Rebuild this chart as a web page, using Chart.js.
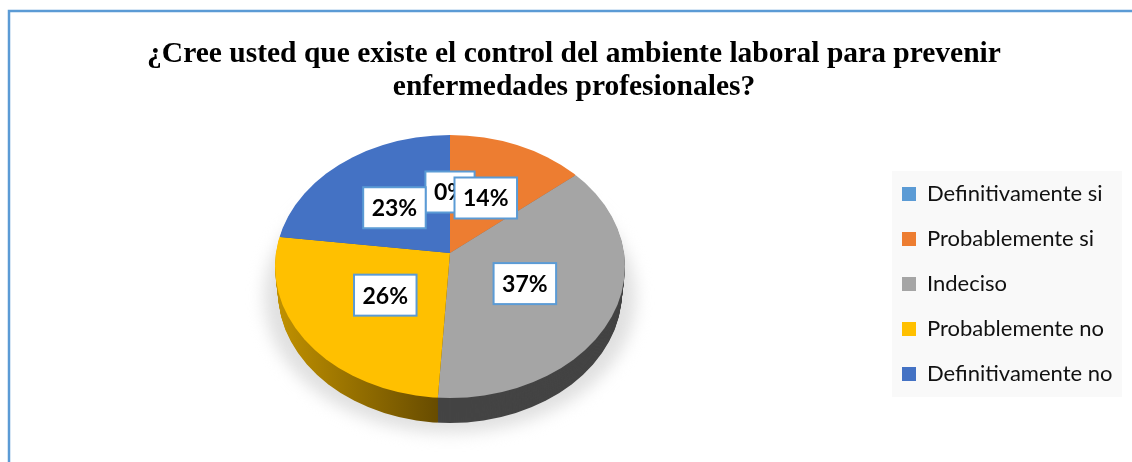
<!DOCTYPE html>
<html>
<head>
<meta charset="utf-8">
<style>
  html, body { margin: 0; padding: 0; background: #fff; }
  #wrap { width: 1132px; height: 462px; }
</style>
<script src="https://cdn.jsdelivr.net/npm/chart.js@4"></script>
</head>
<body>
<div id="wrap"><canvas id="pie"></canvas></div>
<script>
const categories = ['Definitivamente si', 'Probablemente si', 'Indeciso', 'Probablemente no', 'Definitivamente no'];
const percentages = [0, 14, 37, 26, 23];
const sliceColors = ['#5B9BD5', '#ED7D31', '#A5A5A5', '#FFC000', '#4472C4'];
const titleLines = ['¿Cree usted que existe el control del ambiente laboral para prevenir', 'enfermedades profesionales?'];

// apex of the slices sits above the middle of the rim, like the tilted original
const apex = { x: 450, y: 253 };
const rim = { x: 450, y: 266.5, rx: 175, ry: 131.5 };
const tilt = 0.75;
const depth = 25;
const frameBlue = '#5B9BD5';

function rimPath(ctx, dy) {
    ctx.beginPath();
    // lower layers get a bit narrower so the wall only shows from the widest point down
    ctx.ellipse(rim.x, rim.y + dy, rim.rx - dy * 0.12, rim.ry, 0, 0, Math.PI * 2);
}

function tiltAt(ctx, dy) {
    ctx.translate(apex.x, apex.y + dy);
    ctx.scale(1, tilt);
    ctx.translate(-apex.x, -apex.y);
}

function wallColors(ctx) {
    const yellow = ctx.createLinearGradient(280, 0, 442, 0);
    yellow.addColorStop(0, '#BF9000');
    yellow.addColorStop(1, '#654A00');
    return ['#2E6DA4', '#A6561F', '#444444', yellow, '#2F5597'];
}

const pie3d = {
    id: 'pie3d',
    afterLayout(chart) {
        const a = chart.chartArea;
        a.left = apex.x - 150; a.right = apex.x + 150; a.top = apex.y - 150; a.bottom = apex.y + 150;
        a.width = 300; a.height = 300;
        const lg = chart.legend;
        lg.left = 879; lg.right = 1122; lg.top = 160; lg.bottom = 462;
    },
    beforeDraw(chart) {
        const ctx = chart.ctx;
        ctx.save();
        ctx.fillStyle = '#fff';
        ctx.fillRect(0, 0, chart.width, chart.height);
        ctx.strokeStyle = frameBlue;
        ctx.lineWidth = 2.5;
        ctx.beginPath();
        ctx.moveTo(9, chart.height);
        ctx.lineTo(9, 11);
        ctx.lineTo(chart.width, 11);
        ctx.stroke();
        ctx.fillStyle = '#F9F9F9';
        ctx.fillRect(892, 171, 230, 226);
        ctx.restore();
    },
    beforeDatasetDraw(chart, args) {
        const ctx = chart.ctx;
        const arcs = args.meta.data;
        // soft shadow under the pie
        ctx.save();
        ctx.filter = 'blur(8px)';
        ctx.fillStyle = '#E0E0E0';
        ctx.beginPath();
        ctx.ellipse(450, 297, 186, 136, 0, 0, Math.PI * 2);
        ctx.fill();
        ctx.restore();
        // side wall: same arcs repeated downward in darker colours
        const walls = wallColors(ctx);
        for (let d = depth; d > 0; d--) {
            ctx.save();
            rimPath(ctx, d);
            ctx.clip();
            tiltAt(ctx, d);
            arcs.forEach((arc, i) => {
                const saved = arc.options;
                arc.options = Object.assign({}, saved, { backgroundColor: walls[i] });
                arc.draw(ctx);
                arc.options = saved;
            });
            ctx.restore();
        }
        ctx.save();
        rimPath(ctx, 0);
        ctx.clip();
        tiltAt(ctx, 0);
    },
    afterDatasetDraw(chart, args) {
        const ctx = chart.ctx;
        ctx.restore();
        ctx.save();
        ctx.font = 'bold 23px Lato';
        ctx.textAlign = 'center';
        ctx.textBaseline = 'middle';
        args.meta.data.forEach((arc, i) => {
            const c = arc.getCenterPoint();
            // centre point is half of the drawn radius, pull it in to half of the visible one
            const x = apex.x + (c.x - apex.x) * 0.84;
            const y = apex.y + (c.y - apex.y) * 0.84 * tilt + 2;
            const text = percentages[i] + '%';
            const w = ctx.measureText(text).width + 17;
            const h = 41;
            ctx.fillStyle = '#fff';
            ctx.fillRect(x - w / 2, y - h / 2, w, h);
            ctx.strokeStyle = frameBlue;
            ctx.lineWidth = 2;
            ctx.strokeRect(x - w / 2, y - h / 2, w, h);
            ctx.fillStyle = '#000';
            ctx.fillText(text, x, y + 1);
        });
        ctx.restore();
    }
};

new Chart(document.getElementById('pie').getContext('2d'), {
    type: 'pie',
    data: {
        labels: categories,
        datasets: [{
            data: percentages,
            backgroundColor: sliceColors,
            borderWidth: 0,
            radius: 200,
            clip: false
        }]
    },
    options: {
        responsive: true,
        maintainAspectRatio: false,
        animation: false,
        layout: { padding: { left: 26, right: 10, top: 22, bottom: 0 } },
        plugins: {
            title: {
                display: true,
                text: titleLines,
                color: '#000',
                font: { family: 'Liberation Serif', weight: 'bold', size: 29.5, lineHeight: 1.12 },
                padding: { top: 16, bottom: 10 }
            },
            legend: {
                position: 'chartArea',
                align: 'start',
                labels: {
                    color: '#111',
                    font: { family: 'Lato', size: 22 },
                    boxWidth: 14,
                    boxHeight: 14,
                    padding: 23
                }
            },
            tooltip: { enabled: false }
        }
    },
    plugins: [pie3d]
});
</script>
</body>
</html>
